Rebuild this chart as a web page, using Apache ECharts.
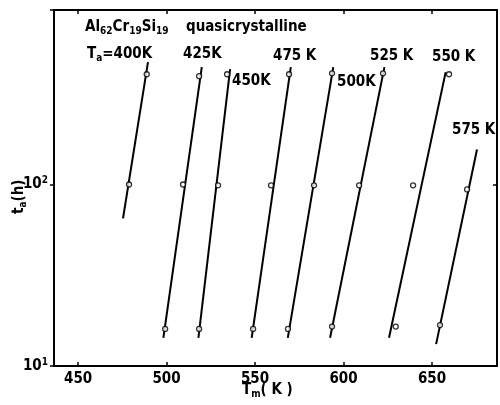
<!DOCTYPE html>
<html>
<head>
<meta charset="utf-8">
<script src="https://cdn.jsdelivr.net/npm/echarts@6/dist/echarts.min.js"></script>
<style>
  html, body { margin: 0; padding: 0; background: #fff; }
  #chart { width: 500px; height: 405px; }
</style>
</head>
<body>
<div id="chart"></div>
<script>
// annealing temperatures (one line per Ta)
const annealTemps = ['400 K', '425 K', '450 K', '475 K', '500 K', '525 K', '550 K', '575 K'];

// fitted lines: end points, Tm in K and ta in h
const lineTm = [[475.4, 489.5], [498.2, 519.9], [518.0, 535.9], [548.1, 570.2], [568.5, 594.2], [592.4, 623.1], [625.7, 657.7], [652.3, 675.4]];
const lineTa = [[65, 472], [14.3, 443], [14.3, 432], [14.3, 443], [14.3, 443], [14.3, 443], [14.3, 416], [13.2, 156]];

// measured points
const pointTm = [
    [488.8, 478.8],
    [518.4, 509.3, 499.2],
    [534.2, 529.1, 518.4],
    [569.2, 559.0, 548.9],
    [593.5, 583.3, 568.6],
    [622.3, 608.8, 593.5],
    [659.6, 639.3, 629.5],
    [669.8, 654.5]
];
const pointTa = [
    [405, 100],
    [395, 100, 16],
    [405, 99, 16],
    [405, 99, 16],
    [410, 99, 16],
    [410, 99, 16.5],
    [405, 99, 16.5],
    [94, 16.8]
];

// axis ticks
const xTicks = [450, 500, 550, 600, 650];
const xMin = 436.4, xMax = 686.7;
const yMin = 10, yMax = 915;

const font = 'DejaVu Sans Condensed';

const chart = echarts.init(document.getElementById('chart'));

const series = [];
annealTemps.forEach((name, i) => {
    series.push({
        name: name,
        type: 'line',
        data: [[lineTm[i][0], lineTa[i][0]], [lineTm[i][1], lineTa[i][1]]],
        symbol: 'none',
        lineStyle: { color: '#000', width: 2 },
        silent: true,
        z: 2
    });
    series.push({
        name: name,
        type: 'scatter',
        data: pointTm[i].map((x, j) => [x, pointTa[i][j]]),
        symbol: 'circle',
        symbolSize: 5,
        itemStyle: { color: '#fff', borderColor: '#000', borderWidth: 1.3 },
        z: 3
    });
});

// temperature labels on the plot
const labels = [
    { text: 'T{sub|a}=400K', x: 87, y: 56 },
    { text: '425K', x: 183, y: 56 },
    { text: '450K', x: 232, y: 83 },
    { text: '475 K', x: 273, y: 58 },
    { text: '500K', x: 337, y: 84 },
    { text: '525 K', x: 370, y: 58 },
    { text: '550 K', x: 432, y: 59 },
    { text: '575 K', x: 452, y: 132 }
];
const rich = {
    sub: { fontFamily: font, fontWeight: 'bold', fontSize: 10, padding: [8, 0, 0, 0], fill: '#000' },
    s: { fontFamily: font, fontWeight: 'bold', fontSize: 10, padding: [0, 0, 8, 0], fill: '#000' }
};
const graphic = labels.map(l => ({
    type: 'text',
    left: l.x,
    top: l.y - 9,
    style: { text: l.text, font: `bold 15px "${font}"`, fill: '#000', rich: rich }
}));
graphic.push({
    type: 'text', left: 85, top: 20,
    style: { text: 'Al{sub|62}Cr{sub|19}Si{sub|19}', font: `bold 15px "${font}"`, fill: '#000', rich: rich }
});
graphic.push({
    type: 'text', left: 186, top: 20,
    style: { text: 'quasicrystalline', font: `bold 15px "${font}"`, fill: '#000' }
});
graphic.push({
    type: 'text', left: 242, top: 383,
    style: { text: 'T{sub|m}( K )', font: `bold 15px "${font}"`, fill: '#000', rich: rich }
});
graphic.push({
    type: 'text', x: 10, y: 214, rotation: Math.PI / 2,
    style: { text: 't{sub|a}(h)', font: `bold 15px "${font}"`, fill: '#000', rich: rich }
});

chart.setOption({
    animation: false,
    grid: { left: 54, right: 3, top: 10, bottom: 39 },
    xAxis: [{
        type: 'value', min: xMin, max: xMax,
        axisLine: { lineStyle: { color: '#000', width: 2 } },
        axisTick: { inside: true, length: 4, customValues: xTicks, lineStyle: { color: '#000', width: 1.5 } },
        axisLabel: { customValues: xTicks, color: '#000', fontFamily: font, fontWeight: 'bold', fontSize: 15, margin: 6 },
        splitLine: { show: false }
    }, {
        type: 'value', min: xMin, max: xMax, position: 'top',
        axisLine: { lineStyle: { color: '#000', width: 2 } },
        axisTick: { inside: true, length: 4, customValues: xTicks, lineStyle: { color: '#000', width: 1.5 } },
        axisLabel: { show: false },
        splitLine: { show: false }
    }],
    yAxis: [{
        type: 'log', logBase: 10, min: yMin, max: yMax,
        axisLine: { show: true, lineStyle: { color: '#000', width: 2 } },
        axisTick: { show: true, length: 4, lineStyle: { color: '#000', width: 1.5 } },
        minorTick: { show: false },
        axisLabel: {
            color: '#000', fontFamily: font, fontWeight: 'bold', fontSize: 15, margin: 6,
            formatter: v => v === 10 ? '10{s|1}' : (v === 100 ? '10{s|2}' : ''),
            rich: {
                s: { fontFamily: font, fontWeight: 'bold', fontSize: 10, padding: [0, 0, 8, 0], color: '#000' }
            }
        },
        splitLine: { show: false }
    }, {
        type: 'log', logBase: 10, min: yMin, max: yMax, position: 'right',
        axisLine: { show: true, lineStyle: { color: '#000', width: 2 } },
        axisTick: { show: true, inside: true, length: 4, lineStyle: { color: '#000', width: 1.5 } },
        axisLabel: { show: false },
        splitLine: { show: false }
    }],
    series: series,
    graphic: graphic
});

window.addEventListener('resize', () => chart.resize());
</script>
</body>
</html>
